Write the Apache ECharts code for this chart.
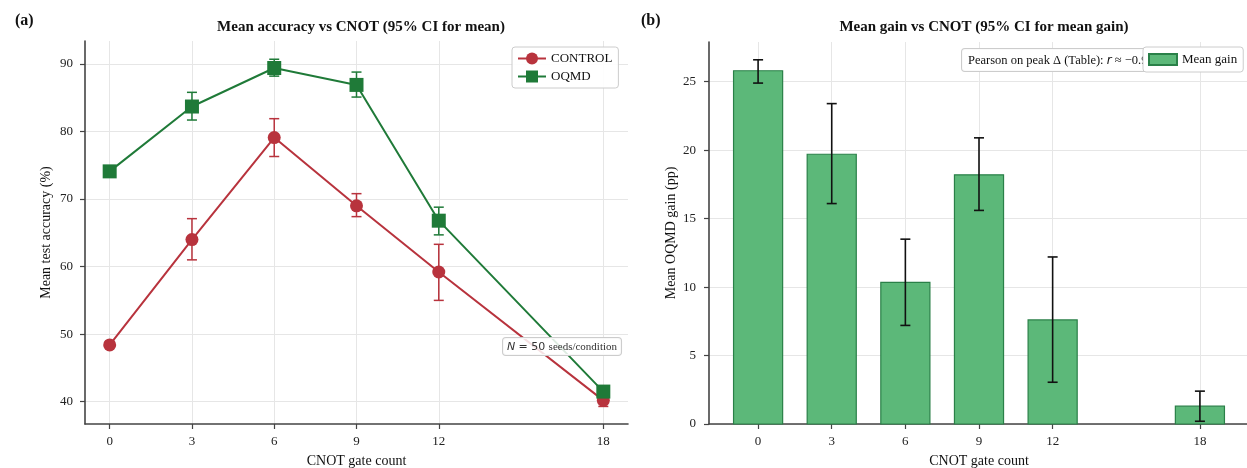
<!DOCTYPE html>
<html>
<head>
<meta charset="utf-8">
<script src="https://cdn.jsdelivr.net/npm/echarts@6/dist/echarts.min.js"></script>
<style>
html,body{margin:0;padding:0;background:#fff;}
#chart{width:1247px;height:468px;}
</style>
</head>
<body>
<div id="chart"></div>
<script>
// ---- data ----
const cnot = [0, 3, 6, 9, 12, 18];
const xTicks = [0, 3, 6, 9, 12, 18];
const accTicks = [40, 50, 60, 70, 80, 90];
const gainTicks = [0, 5, 10, 15, 20, 25];

const controlMean = [48.4, 64.0, 79.1, 69.0, 59.2, 40.2];
const controlLo   = [48.0, 61.0, 76.3, 67.4, 55.0, 39.3];
const controlHi   = [48.8, 67.1, 81.9, 70.8, 63.3, 41.1];

const oqmdMean = [74.1, 83.7, 89.4, 86.9, 66.8, 41.5];
const oqmdLo   = [73.8, 81.7, 88.2, 85.1, 64.7, 41.1];
const oqmdHi   = [74.4, 85.8, 90.7, 88.8, 68.8, 41.9];

const gainMean = [25.8, 19.7, 10.35, 18.2, 7.6, 1.3];
const gainLo   = [24.9, 16.1, 7.2, 15.6, 3.05, 0.2];
const gainHi   = [26.6, 23.4, 13.5, 20.9, 12.2, 2.4];

// ---- styles ----
const RED = '#b8333d';
const GREEN = '#1f7a38';
const BAR_FILL = '#5cb879';
const BAR_EDGE = '#2a8048';
const SERIF = '"Liberation Serif", "DejaVu Serif", serif';
const AXIS_COLOR = '#444';
const GRID_COLOR = '#e6e6e6';

function zip3(a, b, c) { return a.map((v, i) => [v, b[i], c[i]]); }

function errRender(color, capHalf, lw) {
  return function (params, api) {
    const x = api.value(0);
    const p1 = api.coord([x, api.value(1)]);
    const p2 = api.coord([x, api.value(2)]);
    const s = { stroke: color, lineWidth: lw };
    return {
      type: 'group',
      children: [
        { type: 'line', shape: { x1: p1[0], y1: p1[1], x2: p2[0], y2: p2[1] }, style: s },
        { type: 'line', shape: { x1: p1[0] - capHalf, y1: p1[1], x2: p1[0] + capHalf, y2: p1[1] }, style: s },
        { type: 'line', shape: { x1: p2[0] - capHalf, y1: p2[1], x2: p2[0] + capHalf, y2: p2[1] }, style: s }
      ]
    };
  };
}

function barRender(params, api) {
  const x = api.value(0);
  const y = api.value(1);
  const tl = api.coord([x - 1, y]);
  const br = api.coord([x + 1, 0]);
  return {
    type: 'rect',
    shape: { x: tl[0], y: tl[1], width: br[0] - tl[0], height: br[1] - tl[1] },
    style: { fill: BAR_FILL, stroke: BAR_EDGE, lineWidth: 1.2 }
  };
}

function xAxisCommon(gridIndex, min, max) {
  return {
    type: 'value', gridIndex, min, max,
    name: 'CNOT gate count', nameLocation: 'middle', nameGap: 30,
    nameTextStyle: { fontFamily: SERIF, fontSize: 14, color: '#111' },
    axisLine: { show: true, onZero: false, lineStyle: { color: AXIS_COLOR, width: 1.6 } },
    axisTick: { show: true, length: 5, customValues: xTicks, lineStyle: { color: AXIS_COLOR, width: 1.2 } },
    axisLabel: { customValues: xTicks, fontFamily: SERIF, fontSize: 13, color: '#222', margin: 11 },
    splitLine: { show: true, lineStyle: { color: GRID_COLOR, width: 1 } }
  };
}

function yAxisCommon(gridIndex, min, max, ticks, name, gap, lmargin) {
  return {
    type: 'value', gridIndex, min, max,
    name, nameLocation: 'middle', nameGap: gap,
    nameTextStyle: { fontFamily: SERIF, fontSize: 14, color: '#111' },
    axisLine: { show: true, onZero: false, lineStyle: { color: AXIS_COLOR, width: 1.6 } },
    axisTick: { show: true, length: 5, customValues: ticks, lineStyle: { color: AXIS_COLOR, width: 1.2 } },
    axisLabel: { customValues: ticks, fontFamily: SERIF, fontSize: 13, color: '#222', margin: lmargin },
    splitLine: { show: true, lineStyle: { color: GRID_COLOR, width: 1 } }
  };
}

const chart = echarts.init(document.getElementById('chart'), null, { renderer: 'canvas' });

const option = {
  animation: false,
  backgroundColor: '#fff',
  title: [
    { text: '(a)', left: 10, top: 8, textStyle: { fontFamily: SERIF, fontSize: 16, fontWeight: 'bold', color: '#111' } },
    { text: '(b)', left: 636, top: 8, textStyle: { fontFamily: SERIF, fontSize: 16, fontWeight: 'bold', color: '#111' } },
    { text: 'Mean accuracy vs CNOT (95% CI for mean)', left: 356, top: 15, textAlign: 'center',
      textStyle: { fontFamily: SERIF, fontSize: 15, fontWeight: 'bold', color: '#111' } },
    { text: 'Mean gain vs CNOT (95% CI for mean gain)', left: 979, top: 15, textAlign: 'center',
      textStyle: { fontFamily: SERIF, fontSize: 15, fontWeight: 'bold', color: '#111' } }
  ],
  grid: [
    { left: 85, top: 41, width: 543, height: 383, containLabel: false, outerBoundsMode: 'none' },
    { left: 709, top: 42, width: 540, height: 382, containLabel: false, outerBoundsMode: 'none' }
  ],
  xAxis: [
    xAxisCommon(0, -0.9, 18.9),
    xAxisCommon(1, -2, 20)
  ],
  yAxis: [
    yAxisCommon(0, 36.7, 93.4, accTicks, 'Mean test accuracy (%)', 32, 12),
    yAxisCommon(1, 0, 27.9, gainTicks, 'Mean OQMD gain (pp)', 31, 13)
  ],
  legend: [
    {
      data: ['CONTROL', 'OQMD'], orient: 'vertical', left: 512, top: 47,
      itemWidth: 28, itemHeight: 15, itemGap: 5,
      padding: [5, 6, 5, 5],
      backgroundColor: 'rgba(255,255,255,0.9)', borderColor: '#cccccc', borderWidth: 1, borderRadius: 3,
      textStyle: { fontFamily: SERIF, fontSize: 13, color: '#111' },
      z: 10
    },
    {
      data: [{ name: 'Mean gain', icon: 'rect' }], left: 1143, top: 47,
      itemWidth: 28, itemHeight: 11,
      padding: [6, 6, 6, 5],
      backgroundColor: '#ffffff', borderColor: '#cccccc', borderWidth: 1, borderRadius: 3,
      textStyle: { fontFamily: SERIF, fontSize: 13, color: '#111' },
      z: 10
    }
  ],
  graphic: [
    {
      type: 'text', left: 502, top: 337, z: 5,
      style: {
        text: '{i|N} {m|= 50} {s|seeds/condition}',
        rich: {
          i: { fontFamily: '"DejaVu Sans", sans-serif', fontStyle: 'italic', fontSize: 11, fill: '#333' },
          m: { fontFamily: '"DejaVu Sans", sans-serif', fontSize: 11, fill: '#333' },
          s: { fontFamily: SERIF, fontSize: 11, fill: '#333' }
        },
        backgroundColor: 'rgba(255,255,255,0.85)', borderColor: '#cccccc', borderWidth: 1, borderRadius: 3,
        padding: [3, 4, 2, 4]
      }
    },
    {
      type: 'text', left: 961, top: 48, z: 1,
      style: {
        text: '{s|Pearson on peak Δ (Table): }{i|r}{s| ≈ −0.93}',
        rich: {
          s: { fontFamily: SERIF, fontSize: 12.5, fill: '#111' },
          i: { fontFamily: '"DejaVu Sans", sans-serif', fontStyle: 'italic', fontSize: 12, fill: '#111' }
        },
        backgroundColor: 'rgba(255,255,255,0.9)', borderColor: '#cccccc', borderWidth: 1, borderRadius: 3,
        padding: [5, 6, 4, 6]
      }
    }
  ],
  series: [
    {
      name: 'CONTROL', type: 'line', xAxisIndex: 0, yAxisIndex: 0,
      data: cnot.map((x, i) => [x, controlMean[i]]),
      symbol: 'circle', symbolSize: 13,
      lineStyle: { color: RED, width: 2 }, itemStyle: { color: RED }, z: 3
    },
    {
      name: 'CONTROL err', type: 'custom', xAxisIndex: 0, yAxisIndex: 0,
      data: zip3(cnot, controlLo, controlHi),
      renderItem: errRender(RED, 5, 1.5), z: 2, silent: true
    },
    {
      name: 'OQMD', type: 'line', xAxisIndex: 0, yAxisIndex: 0,
      data: cnot.map((x, i) => [x, oqmdMean[i]]),
      symbol: 'rect', symbolSize: 14,
      lineStyle: { color: GREEN, width: 2 }, itemStyle: { color: GREEN }, z: 3
    },
    {
      name: 'OQMD err', type: 'custom', xAxisIndex: 0, yAxisIndex: 0,
      data: zip3(cnot, oqmdLo, oqmdHi),
      renderItem: errRender(GREEN, 5, 1.5), z: 2, silent: true
    },
    {
      name: 'Mean gain', type: 'custom', xAxisIndex: 1, yAxisIndex: 1,
      data: cnot.map((x, i) => [x, gainMean[i]]),
      renderItem: barRender,
      itemStyle: { color: BAR_FILL, borderColor: BAR_EDGE, borderWidth: 1.2 },
      encode: { x: 0, y: 1 }, z: 2
    },
    {
      name: 'gain err', type: 'custom', xAxisIndex: 1, yAxisIndex: 1,
      data: zip3(cnot, gainLo, gainHi),
      renderItem: errRender('#111', 5, 1.6), z: 3, silent: true
    }
  ]
};
chart.setOption(option);
</script>
</body>
</html>
